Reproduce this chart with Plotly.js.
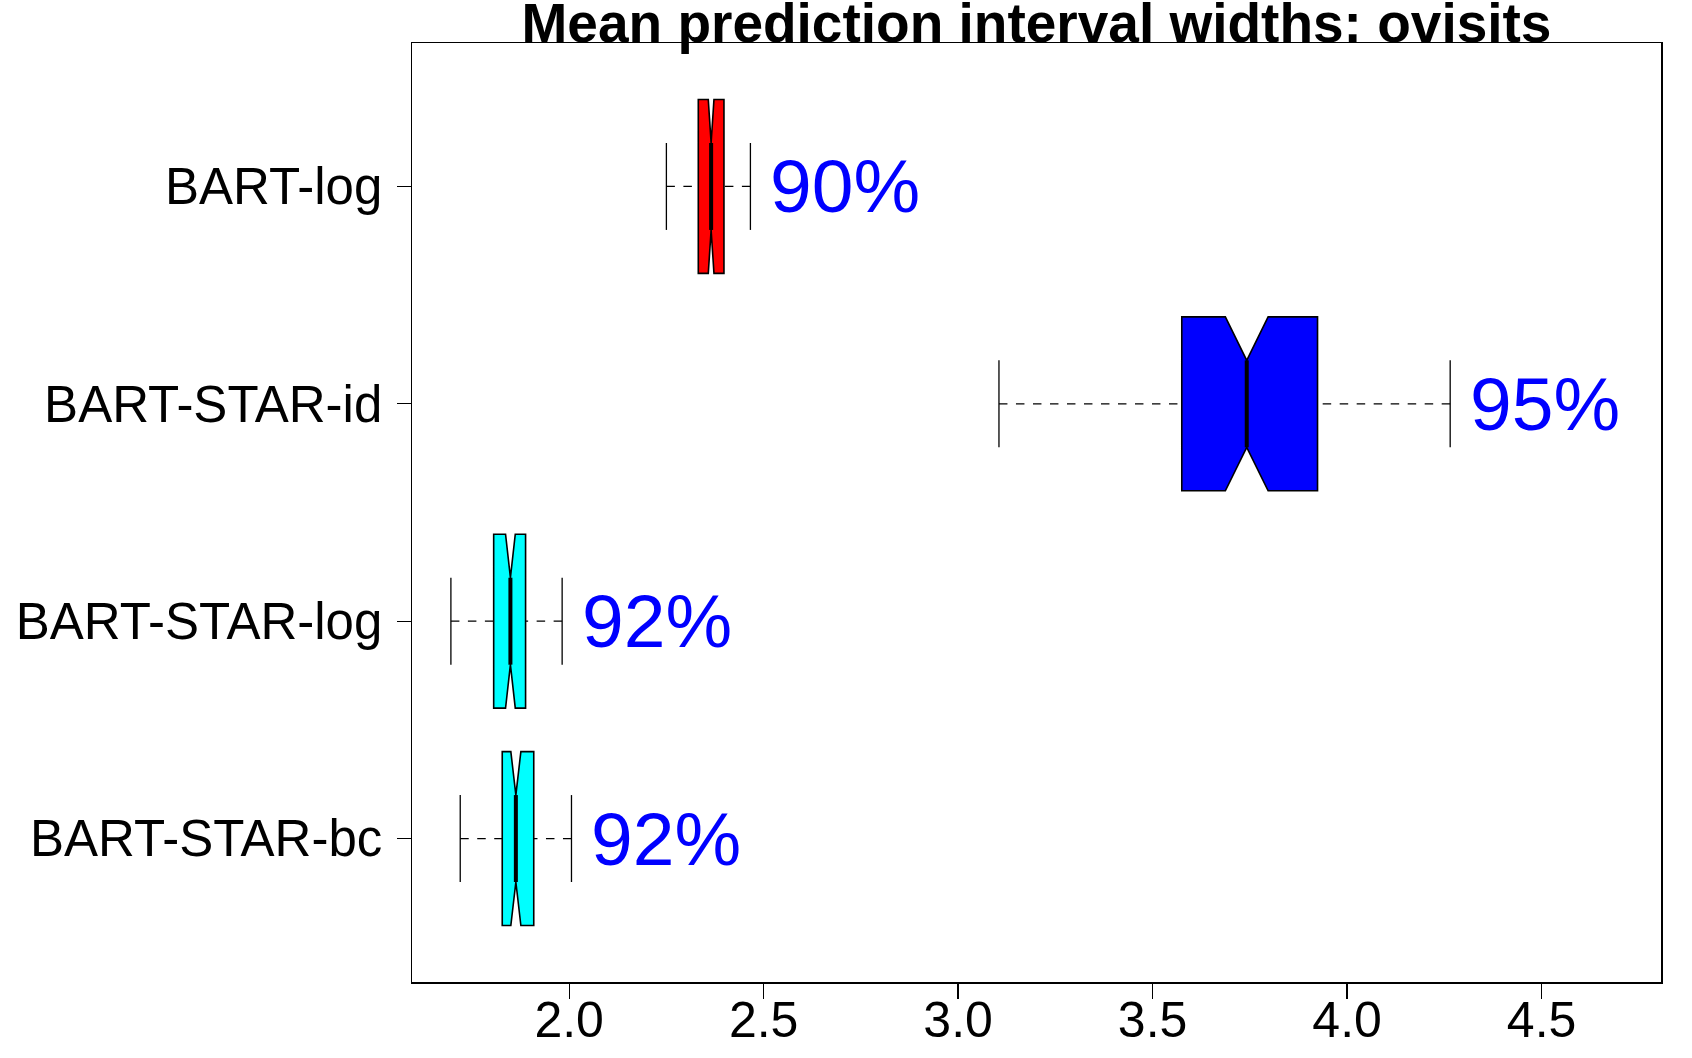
<!DOCTYPE html>
<html>
<head>
<meta charset="utf-8">
<script src="https://cdn.plot.ly/plotly-3.0.1.min.js"></script>
<style>
  html, body { margin: 0; padding: 0; background: #ffffff; }
  #chart { width: 1692px; height: 1058px; }
</style>
</head>
<body>
<div id="chart"></div>
<script>
// Methods, listed from the bottom of the plot to the top
const methods   = ['BART-STAR-bc', 'BART-STAR-log', 'BART-STAR-id', 'BART-log'];
const positions = [1, 2, 3, 4];

// Five-number summaries of the mean prediction interval widths
const whiskerLo = [1.720, 1.696, 3.105, 2.250];
const q1        = [1.828, 1.806, 3.575, 2.332];
const median    = [1.863, 1.849, 3.742, 2.365];
const q3        = [1.909, 1.888, 3.924, 2.398];
const whiskerHi = [2.006, 1.982, 4.265, 2.466];
// Half-width of each median notch
const notchHalf = [0.0129, 0.0125, 0.055, 0.0073];

// Empirical coverage of each method's intervals
const coverage  = ['92%', '92%', '95%', '90%'];
const fills     = ['#00FFFF', '#00FFFF', '#0000FF', '#FF0000'];

const FONT = '"Liberation Sans", Arial, Helvetica, sans-serif';
const BOX_W = 0.8;              // box thickness in axis units
const HALF_NARROW = BOX_W / 4;  // half-length of median bar and whisker staples

const traces = [];

// Notched boxes (whiskers are drawn separately so they can be dashed)
methods.forEach((m, i) => {
  traces.push({
    type: 'box',
    orientation: 'h',
    name: m,
    y: [positions[i]],
    q1: [q1[i]],
    median: [median[i]],
    q3: [q3[i]],
    lowerfence: [q1[i]],
    upperfence: [q3[i]],
    notched: true,
    notchspan: [notchHalf[i]],
    notchwidth: 0.25,
    width: BOX_W,
    whiskerwidth: 0,
    fillcolor: fills[i],
    line: { color: '#000000', width: 1.6 },
    hoverinfo: 'skip',
    showlegend: false
  });
});

// Dashed whiskers, each running from its end back toward the box
methods.forEach((m, i) => {
  [[whiskerLo[i], q1[i]], [whiskerHi[i], q3[i]]].forEach(seg => {
    traces.push({
      type: 'scatter',
      mode: 'lines',
      x: seg,
      y: [positions[i], positions[i]],
      line: { color: '#000000', width: 1.3, dash: '8.5px,8.5px' },
      hoverinfo: 'skip',
      showlegend: false
    });
  });
});

// Whisker staples
const stapleX = [], stapleY = [];
methods.forEach((m, i) => {
  [whiskerLo[i], whiskerHi[i]].forEach(v => {
    stapleX.push(v, v, null);
    stapleY.push(positions[i] - HALF_NARROW, positions[i] + HALF_NARROW, null);
  });
});
traces.push({
  type: 'scatter',
  mode: 'lines',
  x: stapleX,
  y: stapleY,
  line: { color: '#000000', width: 1.3 },
  hoverinfo: 'skip',
  showlegend: false
});

// Heavy median bars
const medX = [], medY = [];
methods.forEach((m, i) => {
  medX.push(median[i], median[i], null);
  medY.push(positions[i] - HALF_NARROW, positions[i] + HALF_NARROW, null);
});
traces.push({
  type: 'scatter',
  mode: 'lines',
  x: medX,
  y: medY,
  line: { color: '#000000', width: 4 },
  hoverinfo: 'skip',
  showlegend: false
});

// Coverage labels beside the upper whiskers
const annotations = methods.map((m, i) => ({
  x: whiskerHi[i],
  y: positions[i],
  xref: 'x',
  yref: 'y',
  text: coverage[i],
  showarrow: false,
  xanchor: 'left',
  yanchor: 'middle',
  xshift: 18,
  font: { family: FONT, size: 75, color: '#0000FF' }
}));

const layout = {
  width: 1692,
  height: 1058,
  paper_bgcolor: '#ffffff',
  plot_bgcolor: '#ffffff',
  margin: { l: 412, r: 31, t: 43, b: 76, pad: 0 },
  boxmode: 'overlay',
  showlegend: false,
  font: { family: FONT, color: '#000000' },
  title: {
    text: 'Mean prediction interval widths: ovisits',
    font: { family: FONT, size: 55, weight: 700, color: '#000000' },
    x: 0.5,
    xref: 'paper',
    xanchor: 'center',
    y: 1 - 42 / 1058,
    yref: 'container',
    yanchor: 'bottom'
  },
  xaxis: {
    range: [1.596, 4.807],
    tick0: 0,
    dtick: 0.5,
    tickformat: '.1f',
    ticks: 'outside',
    ticklen: 15,
    tickwidth: 1.3,
    tickcolor: '#000000',
    ticklabelstandoff: -22,
    tickfont: { family: FONT, size: 50, color: '#000000' },
    showgrid: false,
    zeroline: false,
    showline: true,
    mirror: true,
    linecolor: '#000000',
    linewidth: 1.5,
    fixedrange: true
  },
  yaxis: {
    range: [0.34, 4.66],
    tickmode: 'array',
    tickvals: positions,
    ticktext: methods,
    ticks: 'outside',
    ticklen: 14,
    tickwidth: 1.3,
    tickcolor: '#000000',
    ticklabelstandoff: 4,
    tickfont: { family: FONT, size: 51, color: '#000000' },
    showgrid: false,
    zeroline: false,
    showline: true,
    mirror: true,
    linecolor: '#000000',
    linewidth: 1.5,
    fixedrange: true
  },
  annotations: annotations
};

Plotly.newPlot('chart', traces, layout, { displayModeBar: false, staticPlot: true });
</script>
</body>
</html>
